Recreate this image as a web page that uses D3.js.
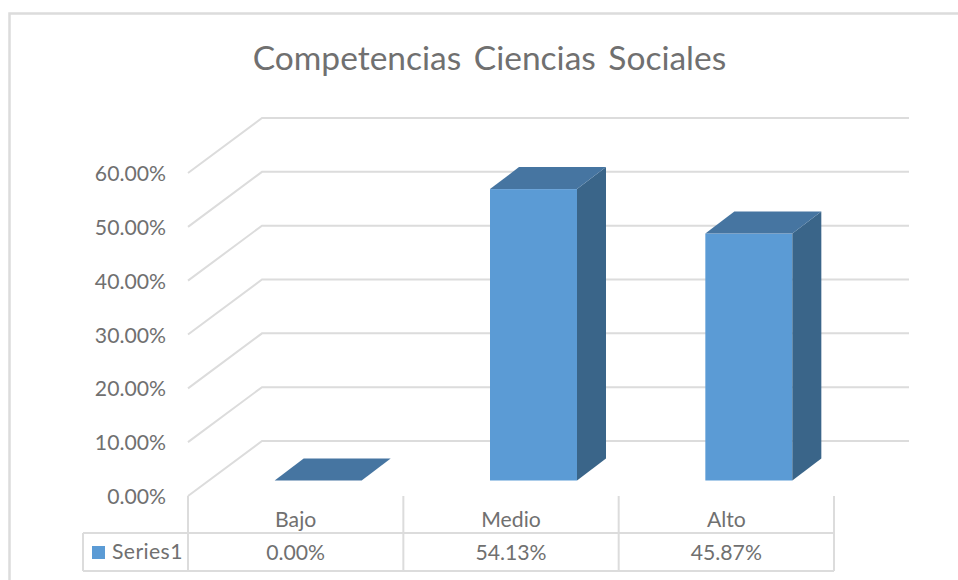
<!DOCTYPE html>
<html><head><meta charset="utf-8">
<script src="https://cdn.jsdelivr.net/npm/d3@7"></script>
<style>html,body{margin:0;background:#fff}svg{display:block}text{font-family:"Lato",sans-serif;fill:#707070}</style>
</head><body><svg id="c" width="958" height="580"></svg>
<script>
const categories = ["Bajo","Medio","Alto"];
const values = [0, 54.13, 45.87];
const valueLabels = ["0.00%","54.13%","45.87%"];
const ticks = [0,10,20,30,40,50,60];
const seriesName = "Series1";
const titleText = "Competencias Ciencias Sociales";

const svg = d3.select("#c");
const GRID="#dcdcdc";
const FS=21.2;
svg.append("path").attr("d","M9.5,580V13.5H958").attr("fill","none").attr("stroke",GRID).attr("stroke-width",2.5);

const yBack = d3.scaleLinear().domain([0,60]).range([441,118]);
const dx=74, dy=55;
const xEnd=909;
const x = d3.scaleBand().domain(categories).range([188,834]);

const g = svg.append("g").attr("fill","none").attr("stroke",GRID).attr("stroke-width",2);
g.selectAll("path").data(ticks).join("path")
 .attr("d",t=>`M${188},${yBack(t)+dy}L${188+dx},${yBack(t)}H${xEnd}`);

svg.append("g").selectAll("text").data(ticks).join("text")
 .attr("x",166).attr("y",t=>yBack(t)+dy+8).attr("text-anchor","end").attr("font-size",FS)
 .text(t=>t.toFixed(2)+"%");

const barW=87, depthX=29, depthY=22, baseY=480.5, barShift=22.5;
const hScale=d3.scaleLinear().domain([0,60]).range([0,yBack(0)-yBack(60)]);
const bars=svg.append("g").selectAll("g").data(categories).join("g");
bars.each(function(c,i){
  const b=d3.select(this), h=hScale(values[i]);
  const x0=x(c)+x.bandwidth()/2-barW/2+barShift, x1=x0+barW, yt=baseY-h;
  if(h>0){
    b.append("rect").attr("x",x0).attr("y",yt).attr("width",barW).attr("height",h).attr("fill","#5b9bd5");
    b.append("path").attr("d",`M${x1},${yt}L${x1+depthX},${yt-depthY}V${baseY-depthY}L${x1},${baseY}Z`).attr("fill","#3a6589");
  }
  b.append("path").attr("d",`M${x0},${yt}L${x0+depthX},${yt-depthY}H${x1+depthX}L${x1},${yt}Z`).attr("fill","#4675a1");
});

const t=svg.append("g").attr("fill","none").attr("stroke",GRID).attr("stroke-width",2);
t.append("path").attr("d","M83,533H834M83,571H834M83,533V571");
const edges=[188,...categories.map(c=>x(c)+x.bandwidth())];
t.selectAll("line").data(edges).join("line")
 .attr("x1",d=>d).attr("x2",d=>d).attr("y1",496).attr("y2",571);

svg.append("g").selectAll("text").data(categories).join("text")
 .attr("x",c=>x(c)+x.bandwidth()/2).attr("y",526.5).attr("text-anchor","middle").attr("font-size",FS).text(c=>c);
svg.append("g").selectAll("text").data(valueLabels).join("text")
 .attr("x",(d,i)=>x(categories[i])+x.bandwidth()/2).attr("y",560).attr("text-anchor","middle").attr("font-size",FS).text(d=>d);
svg.append("rect").attr("x",92).attr("y",546).attr("width",13).attr("height",13).attr("fill","#5b9bd5");
svg.append("text").attr("x",112).attr("y",559).attr("font-size",FS).attr("letter-spacing",0.4).text(seriesName);

svg.append("text").attr("x",489.5).attr("y",70).attr("text-anchor","middle").attr("font-size",33.5).attr("word-spacing",4).text(titleText);
</script></body></html>
